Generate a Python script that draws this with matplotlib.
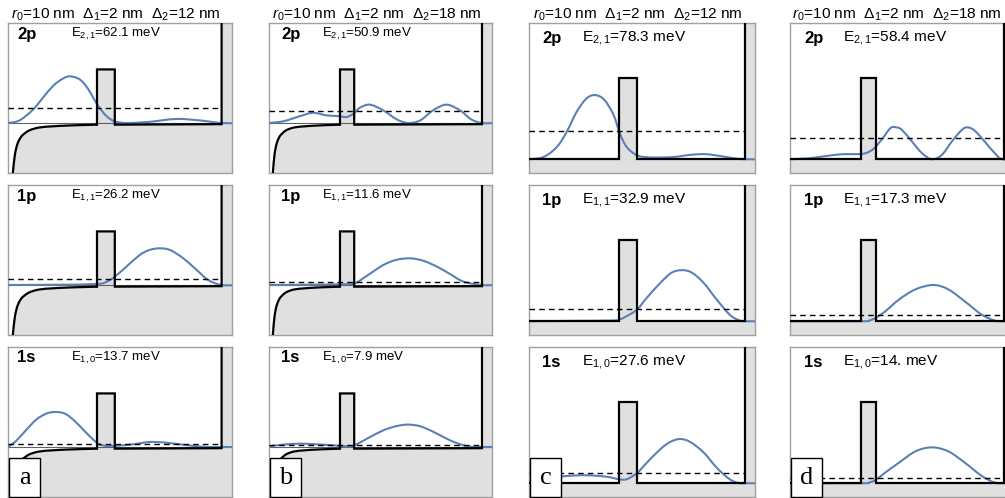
import matplotlib
matplotlib.use('Agg')
import matplotlib.pyplot as plt
from matplotlib.patches import Rectangle, PathPatch
from matplotlib.path import Path

plt.rcParams['font.family'] = ['Liberation Sans', 'DejaVu Sans']
plt.rcParams['mathtext.fontset'] = 'custom'
plt.rcParams['mathtext.rm'] = 'Liberation Sans'
plt.rcParams['mathtext.it'] = 'Liberation Sans:italic'
plt.rcParams['mathtext.bf'] = 'Liberation Sans:bold'
plt.rcParams['mathtext.default'] = 'regular'

# structure: core radius, barrier shell, outer well shell (nm)
r0 = 10.
d1 = 2.
d2 = [12., 18., 12., 18.]
V0 = 225.          # barrier height, meV
impurity = [True, True, False, False]
panel_tags = ['a', 'b', 'c', 'd']
states = ['2p', '1p', '1s']
e_names = ['E$_{2,1}$', 'E$_{1,1}$', 'E$_{1,0}$']

# level energies, meV (as printed)
E_a = ['62.1', '26.2', '13.7']
E_b = ['50.9', '11.6', '7.9']
E_c = ['78.3', '32.9', '27.6']
E_d = ['58.4', '17.3', '14.']

# impurity potential inside the core, meV
coul_r = [0.45, 0.56, 0.75, 0.9, 1.1, 1.4, 1.7, 2.4, 3.5, 5.0, 6.5, 8.0, 10.0]
coul_v = [-260, -203, -140, -110, -84, -62, -49, -31, -19, -14, -11, -9, -7]
# its tail in the outer shell (start, wall)
tail_v = [-7, -5]

# probability densities (r in nm, amplitude in meV units)
a_2p_r = [0, 1.3, 2.8, 3.9, 5.1, 6.2, 7.0, 8.1, 9.0, 9.7, 10.3, 11.1, 12.0, 13.3, 15.9, 18.9, 21.5, 24.0, 26]
a_2p_w = [0, 11, 56, 105, 157, 187, 196, 182, 143, 98, 63, 28, 7, 0, 5, 17, 11, 0, 0]
a_1p_r = [0, 5, 9.9, 11.1, 12.0, 13.3, 14.8, 15.9, 17.0, 18.2, 19.7, 21.2, 22.5, 24.0, 26]
a_1p_w = [0, 1, 4, 14, 35, 77, 126, 147, 154, 147, 112, 63, 21, 0, 0]
a_1s_r = [0, 0.9, 2.1, 3.2, 4.3, 5.25, 6.4, 7.5, 8.6, 9.55, 10.3, 11.4, 14.0, 15.9, 17.8, 20.0, 22.3, 24, 26]
a_1s_w = [0, 25, 74, 116, 140, 147, 140, 109, 67, 32, 11, 4, 11, 21, 18, 8, 0, 0, 0]

b_2p_r = [0, 2.0, 4.4, 6.2, 8.1, 9.8, 10.9, 11.9, 12.8, 14.2, 16.1, 18.0, 19.6, 21.3, 23.1, 25.0, 26.9, 28.5, 30.0, 32]
b_2p_w = [0, 7, 29, 43, 32, 29, 25, 39, 64, 77, 53, 15, 0, 11, 53, 77, 53, 15, 0, 0]
b_1p_r = [0, 5, 10, 12.0, 13.8, 16.1, 18.0, 19.9, 21.7, 23.6, 25.5, 27.4, 30.0, 32]
b_1p_w = [0, 1, 3, 6, 39, 84, 106, 112, 102, 78, 46, 14, 0, 0]
b_1s_r = [0, 2.0, 4.4, 6.7, 9.1, 10.9, 12.0, 13.8, 16.1, 18.0, 19.6, 21.3, 23.2, 25.5, 27.4, 28.8, 30, 32]
b_1s_w = [3, 10, 14, 11, 7, 3, 7, 35, 70, 88, 94, 87, 63, 28, 7, 0, 0, 0]

c_2p_r = [0, 1.6, 3.1, 4.2, 5.3, 6.4, 7.4, 8.4, 9.4, 10.1, 10.85, 12.0, 13.4, 16.0, 17.9, 19.6, 21.2, 22.7, 24.0, 26]
c_2p_w = [0, 6, 34, 76, 131, 168, 177, 163, 122, 71, 34, 11, 5, 6, 12, 14, 9, 3, 0, 0]
c_1p_r = [0, 5, 9.4, 10.1, 10.85, 12.0, 13.1, 14.6, 15.85, 17.0, 18.1, 19.4, 20.85, 22.3, 23.3, 24.0, 26]
c_1p_w = [0, 1, 2, 5, 14, 32, 65, 106, 134, 141, 134, 106, 60, 18, 3, 0, 0]
c_1s_r = [0, 1.6, 4.2, 6.4, 8.6, 10.0, 10.85, 12.0, 13.1, 14.6, 15.7, 16.8, 17.9, 19.4, 20.85, 22.3, 23.4, 24.0, 26]
c_1s_w = [6, 13, 20, 22, 18, 11, 11, 28, 57, 94, 114, 122, 114, 85, 43, 11, 0, 0, 0]

d_2p_r = [0, 2.8, 5.1, 7.4, 9.3, 10.65, 11.8, 13.0, 14.1, 14.9, 15.7, 17.1, 18.5, 19.9, 21.3, 22.7, 24.1, 24.9, 25.9, 27.3, 28.7, 29.8, 32]
d_2p_w = [0, 3, 9, 14, 14, 17, 30, 58, 86, 88, 81, 49, 17, 0, 12, 49, 81, 88, 79, 49, 17, 0, 0]
d_1p_r = [0, 10, 11.1, 12.0, 13.4, 15.3, 17.6, 20.1, 22.2, 24.5, 26.9, 28.7, 30, 32]
d_1p_w = [0, 0, 2, 9, 28, 60, 88, 100, 88, 55, 18, 2, 0, 0]
d_1s_r = [0, 10, 11.1, 12.0, 13.4, 15.3, 17.6, 19.9, 22.2, 24.5, 26.9, 28.7, 30, 32]
d_1s_w = [0, 0, 2, 9, 30, 57, 88, 99, 88, 57, 20, 2, 0, 0]

energies = [E_a, E_b, E_c, E_d]
waves = [
    [(a_2p_r, a_2p_w), (a_1p_r, a_1p_w), (a_1s_r, a_1s_w)],
    [(b_2p_r, b_2p_w), (b_1p_r, b_1p_w), (b_1s_r, b_1s_w)],
    [(c_2p_r, c_2p_w), (c_1p_r, c_1p_w), (c_1s_r, c_1s_w)],
    [(d_2p_r, d_2p_w), (d_1p_r, d_1p_w), (d_1s_r, d_1s_w)],
]


def smooth_path(x, y):
    # cubic Bezier through every point (Catmull-Rom tangents)
    pts = list(zip(x, y))
    n = len(pts)
    verts = [pts[0]]
    codes = [Path.MOVETO]
    for k in range(n - 1):
        p0 = pts[max(k - 1, 0)]
        p1 = pts[k]
        p2 = pts[k + 1]
        p3 = pts[min(k + 2, n - 1)]
        c1 = (p1[0] + (p2[0] - p0[0]) / 6, p1[1] + (p2[1] - p0[1]) / 6)
        c2 = (p2[0] - (p3[0] - p1[0]) / 6, p2[1] - (p3[1] - p1[1]) / 6)
        verts += [c1, c2, p2]
        codes += [Path.CURVE4] * 3
    return Path(verts, codes)


W, H = 1005, 498
fig = plt.figure(figsize=(W / 100, H / 100), dpi=100)

# panel placement in pixels
col_left = [8, 269, 529, 790]
col_scale = [8.9, 7.1, 9.0, 7.13]      # px per nm
col_xmax = [25.17, 31.4, 25.1, 31.4]
row_top = [23, 185, 347]
row_h = 150
e_dx = [63, 53, 53, 53]

gray = '#e0e0e0'
blue = '#5b80b5'

for j in range(4):
    rb = r0 + d1
    rw = rb + d2[j]
    xmax = col_xmax[j]
    ylo, yhi = (-210, 420) if impurity[j] else (-38, 376)
    wpx = xmax * col_scale[j]
    for i in range(3):
        ax = fig.add_axes([col_left[j] / W, 1 - (row_top[i] + row_h) / H, wpx / W, row_h / H])
        ax.set_xlim(0, xmax)
        ax.set_ylim(ylo, yhi)
        ax.set_xticks([])
        ax.set_yticks([])
        for s in ax.spines.values():
            s.set_color('#a0a0a0')
            s.set_linewidth(1.0)

        # potential profile: core (with impurity tail), barrier, outer well, wall
        if impurity[j]:
            pr = coul_r + [r0, r0, rb, rb, rw, rw]
            pv = coul_v + [coul_v[-1], V0, V0, tail_v[0], tail_v[1], yhi]
        else:
            pr = [0, r0, r0, rb, rb, rw, rw]
            pv = [0, 0, V0, V0, 0, 0, yhi]
        ax.fill_between(pr, pv, ylo, color=gray, lw=0, zorder=1)
        ax.axvspan(rw, xmax, color=gray, lw=0, zorder=1)
        if impurity[j]:
            ax.axhline(0, color='#606060', lw=0.8, zorder=2)

        wr, ww = waves[j][i]
        ax.add_patch(PathPatch(smooth_path(wr, ww), fill=False, edgecolor=blue,
                               lw=1.5, zorder=3))

        e = float(energies[j][i])
        ax.plot([0, rw], [e, e], color='black', lw=1.0, ls=(0, (4, 3)), zorder=4)
        if impurity[j]:
            ax.add_patch(PathPatch(smooth_path(coul_r, coul_v), fill=False,
                                   edgecolor='black', lw=1.6, zorder=5))
            ax.plot(pr[len(coul_r) - 1:], pv[len(coul_v) - 1:], color='black',
                    lw=1.6, zorder=5, solid_joinstyle='miter')
        else:
            ax.plot(pr, pv, color='black', lw=1.6, zorder=5, solid_joinstyle='miter')

        big = 0 if impurity[j] else 1
        ytxt = 1 - (row_top[i] + (11 if impurity[j] else 15)) / H
        fig.text((col_left[j] + (9 if j == 0 else 11 + j)) / W, ytxt, states[i],
                 fontsize=12, fontweight='bold', va='center', ha='left')
        fig.text((col_left[j] + e_dx[j]) / W, ytxt,
                 e_names[i] + '=' + energies[j][i] + ' meV',
                 fontsize=9.5 + 1.6 * big, va='center', ha='left')

    xc = min(col_left[j] + wpx / 2 - 4, W - 108)
    fig.text(xc / W, 1 - 15 / H,
             r'$\mathit{r}_0$=10 nm  $\Delta_1$=2 nm  $\Delta_2$=%d nm' % d2[j],
             fontsize=11.1, ha='center', va='center')

    # panel tag box
    bx = col_left[j] + 1
    fig.patches.append(Rectangle((bx / W, 1 - 497 / H), 31 / W, 39 / H,
                                 transform=fig.transFigure, facecolor='white',
                                 edgecolor='black', lw=1.0, zorder=10))
    fig.text((bx + 15.5) / W, 1 - 478 / H, panel_tags[j], fontsize=19,
             family='Liberation Serif', ha='center', va='center', zorder=11)

fig.savefig('out.png', dpi=100)
